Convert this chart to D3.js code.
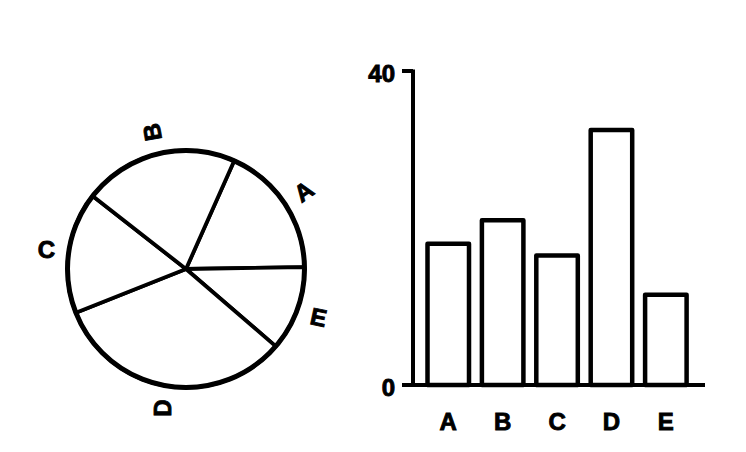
<!DOCTYPE html>
<html>
<head>
<meta charset="utf-8">
<script src="https://cdn.jsdelivr.net/npm/d3@7"></script>
<style>
  html, body { margin: 0; padding: 0; background: #fff; }
  svg { display: block; }
  text { font-family: "Liberation Sans", Arial, Helvetica, sans-serif; font-weight: bold; fill: #000; stroke: #000; stroke-width: 0.9px; }
</style>
</head>
<body>
<script>
// ---- data ----
const categories = ["A", "B", "C", "D", "E"];
const values = [18, 21, 16.5, 32.5, 11.5];
const pieOrder = ["A", "E", "D", "C", "B"];      // clockwise order of slices
const yTicks = [0, 40];
const labelRotation = { A: -35, B: -100, C: 0, D: -90, E: 12 }; // degrees

const W = 746, H = 452;
const FS = 24;
const svg = d3.select("body").append("svg").attr("width", W).attr("height", H);

// ---- pie ----
const cx = 186, cy = 269, R = 118.5;
const byCat = new Map(categories.map((c, i) => [c, values[i]]));
const pieData = pieOrder.map(c => ({ cat: c, value: byCat.get(c) }));
const start = 24 * Math.PI / 180;
const pie = d3.pie().value(d => d.value).sort(null)
  .startAngle(start).endAngle(start + 2 * Math.PI);
const arcs = pie(pieData);
const arc = d3.arc().innerRadius(0).outerRadius(R);
const labelArc = d3.arc().innerRadius(141).outerRadius(141);

const gp = svg.append("g").attr("transform", `translate(${cx},${cy})`);
gp.selectAll("path.slice").data(arcs).join("path")
  .attr("class", "slice")
  .attr("d", arc)
  .attr("fill", "#fff")
  .attr("stroke", "#000")
  .attr("stroke-width", 3.8)
  .attr("stroke-linejoin", "round");
gp.append("circle").attr("r", R).attr("fill", "none")
  .attr("stroke", "#000").attr("stroke-width", 5);
gp.selectAll("text.plab").data(arcs).join("text")
  .attr("class", "plab")
  .attr("transform", d => {
    const [x, y] = labelArc.centroid(d);
    return `translate(${x},${y}) rotate(${labelRotation[d.data.cat]})`;
  })
  .attr("text-anchor", "middle")
  .attr("dy", "0.36em")
  .attr("font-size", FS)
  .text(d => d.data.cat);

// ---- bars ----
const y = d3.scaleLinear().domain([0, 40]).range([385, 71]);
const x = d3.scaleBand().domain(categories)
  .range([427.5, 427.5 + 4 * 54.4 + 41.5]).paddingInner(0.237).paddingOuter(0);
const axisX = 413;

const gb = svg.append("g");
gb.selectAll("rect.bar").data(categories).join("rect")
  .attr("class", "bar")
  .attr("x", d => x(d))
  .attr("width", x.bandwidth())
  .attr("y", (d, i) => y(values[i]))
  .attr("height", (d, i) => y(0) - y(values[i]))
  .attr("fill", "#fff")
  .attr("stroke", "#000")
  .attr("stroke-width", 4.5)
  .attr("stroke-linejoin", "round");

// y axis line
gb.append("line")
  .attr("x1", axisX).attr("x2", axisX)
  .attr("y1", y(40) - 1.5).attr("y2", y(0) + 2)
  .attr("stroke", "#000").attr("stroke-width", 4);
// baseline
gb.append("line")
  .attr("x1", 403).attr("x2", 705)
  .attr("y1", y(0)).attr("y2", y(0))
  .attr("stroke", "#000").attr("stroke-width", 4);
// ticks
gb.selectAll("line.tick").data(yTicks).join("line")
  .attr("class", "tick")
  .attr("x1", 402).attr("x2", axisX)
  .attr("y1", d => y(d)).attr("y2", d => y(d))
  .attr("stroke", "#000").attr("stroke-width", 4);
gb.selectAll("text.ytick").data(yTicks).join("text")
  .attr("class", "ytick")
  .attr("x", 395)
  .attr("y", d => y(d) + 2)
  .attr("dy", "0.36em")
  .attr("text-anchor", "end")
  .attr("font-size", FS)
  .text(d => d);
// category labels
gb.selectAll("text.xlab").data(categories).join("text")
  .attr("class", "xlab")
  .attr("x", d => x(d) + x.bandwidth() / 2)
  .attr("y", 421)
  .attr("dy", "0.36em")
  .attr("text-anchor", "middle")
  .attr("font-size", FS)
  .text(d => d);
</script>
</body>
</html>
